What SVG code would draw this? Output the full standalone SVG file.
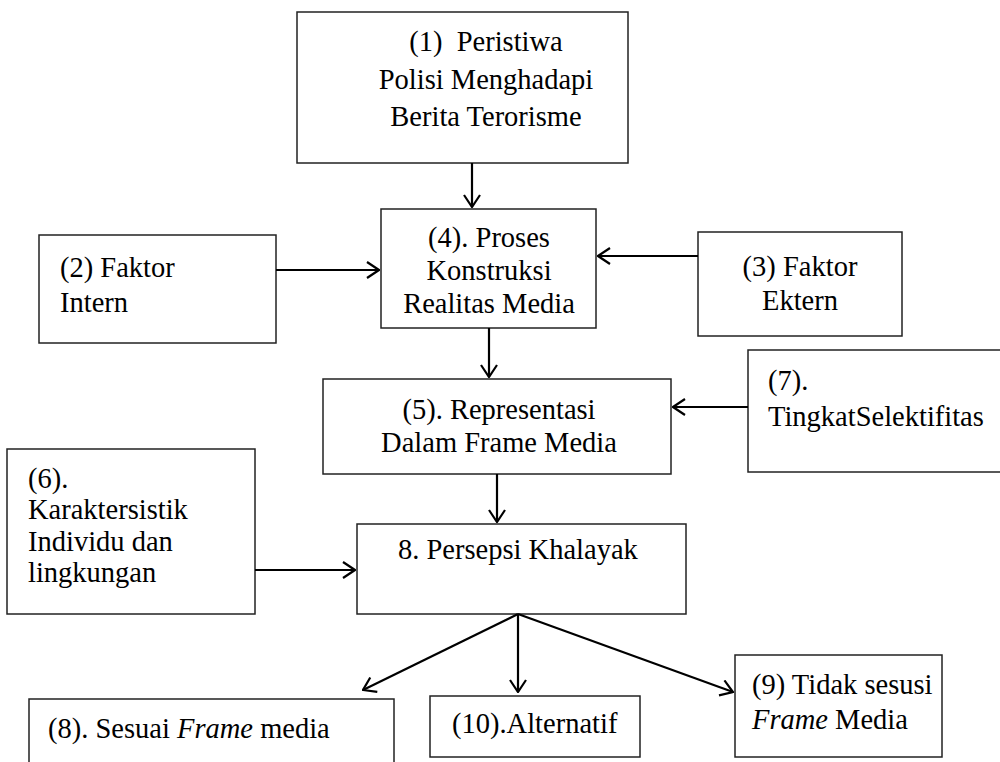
<svg xmlns="http://www.w3.org/2000/svg" width="1000" height="762" viewBox="0 0 1000 762" font-family="Liberation Serif, Times New Roman, serif">
<style>
.box{fill:#fff;stroke:#222;stroke-width:1.5}
.t{font-family:'Liberation Serif','Times New Roman',serif;font-size:28.5px;fill:#000}
.c{text-anchor:middle}
.con{stroke:#000;stroke-width:2.2;fill:none;marker-end:url(#ah)}
</style>
<defs>
<marker id="ah" viewBox="0 0 14 18" refX="13" refY="9" markerWidth="14" markerHeight="18" markerUnits="userSpaceOnUse" orient="auto">
<path d="M1,1 L13,9 L1,17" fill="none" stroke="#000" stroke-width="2.2"/>
</marker>
</defs>
<rect width="1000" height="762" fill="#fff"/>
<g id="n1"><rect class="box" x="297" y="12" width="331" height="151"/>
<text class="t c" x="486" y="51" xml:space="preserve">(1)  Peristiwa</text>
<text class="t c" x="486" y="89">Polisi Menghadapi</text>
<text class="t c" x="486" y="126">Berita Terorisme</text></g>
<g id="n4"><rect class="box" x="381" y="209" width="215" height="119"/>
<text class="t c" x="489" y="247">(4). Proses</text>
<text class="t c" x="489" y="280">Konstruksi</text>
<text class="t c" x="489" y="313">Realitas Media</text></g>
<g id="n2"><rect class="box" x="39" y="235" width="237" height="108"/>
<text class="t" x="60" y="277">(2) Faktor</text>
<text class="t" x="60" y="312">Intern</text></g>
<g id="n3"><rect class="box" x="698" y="232" width="204" height="104"/>
<text class="t c" x="800" y="276">(3) Faktor</text>
<text class="t c" x="800" y="310">Ektern</text></g>
<g id="n5"><rect class="box" x="323" y="379" width="348" height="95"/>
<text class="t c" x="499" y="419">(5). Representasi</text>
<text class="t c" x="499" y="452">Dalam Frame Media</text></g>
<g id="n7"><rect class="box" x="748" y="350" width="260" height="122"/>
<text class="t" x="768" y="390">(7).</text>
<text class="t" x="768" y="426">TingkatSelektifitas</text></g>
<g id="n6"><rect class="box" x="7" y="449" width="248" height="165"/>
<text class="t" x="28" y="488">(6).</text>
<text class="t" x="28" y="519">Karaktersistik</text>
<text class="t" x="28" y="551">Individu dan</text>
<text class="t" x="28" y="582">lingkungan</text></g>
<g id="n8"><rect class="box" x="357" y="524" width="329" height="90"/>
<text class="t" x="398" y="559">8. Persepsi Khalayak</text></g>
<g id="n8b"><rect class="box" x="29" y="699" width="365" height="80"/>
<text class="t" x="48" y="738">(8). Sesuai <tspan font-style="italic">Frame</tspan> media</text></g>
<g id="n10"><rect class="box" x="430" y="696" width="210" height="61"/>
<text class="t" x="452" y="733">(10).Alternatif</text></g>
<g id="n9"><rect class="box" x="735" y="655" width="207" height="102"/>
<text class="t" x="752" y="694">(9) Tidak sesusi</text>
<text class="t" x="752" y="729"><tspan font-style="italic">Frame</tspan> Media</text></g>
<g id="connectors">
<line class="con" x1="472" y1="163" x2="472" y2="207"/>
<line class="con" x1="276" y1="270" x2="379" y2="270"/>
<line class="con" x1="698" y1="256" x2="598" y2="256"/>
<line class="con" x1="489" y1="328" x2="489" y2="377"/>
<line class="con" x1="748" y1="407" x2="673" y2="407"/>
<line class="con" x1="497" y1="474" x2="497" y2="522"/>
<line class="con" x1="255" y1="570" x2="355" y2="570"/>
<line class="con" x1="518" y1="614" x2="363" y2="690"/>
<line class="con" x1="518" y1="614" x2="518" y2="692"/>
<line class="con" x1="518" y1="614" x2="733" y2="692"/>
</g>
</svg>
